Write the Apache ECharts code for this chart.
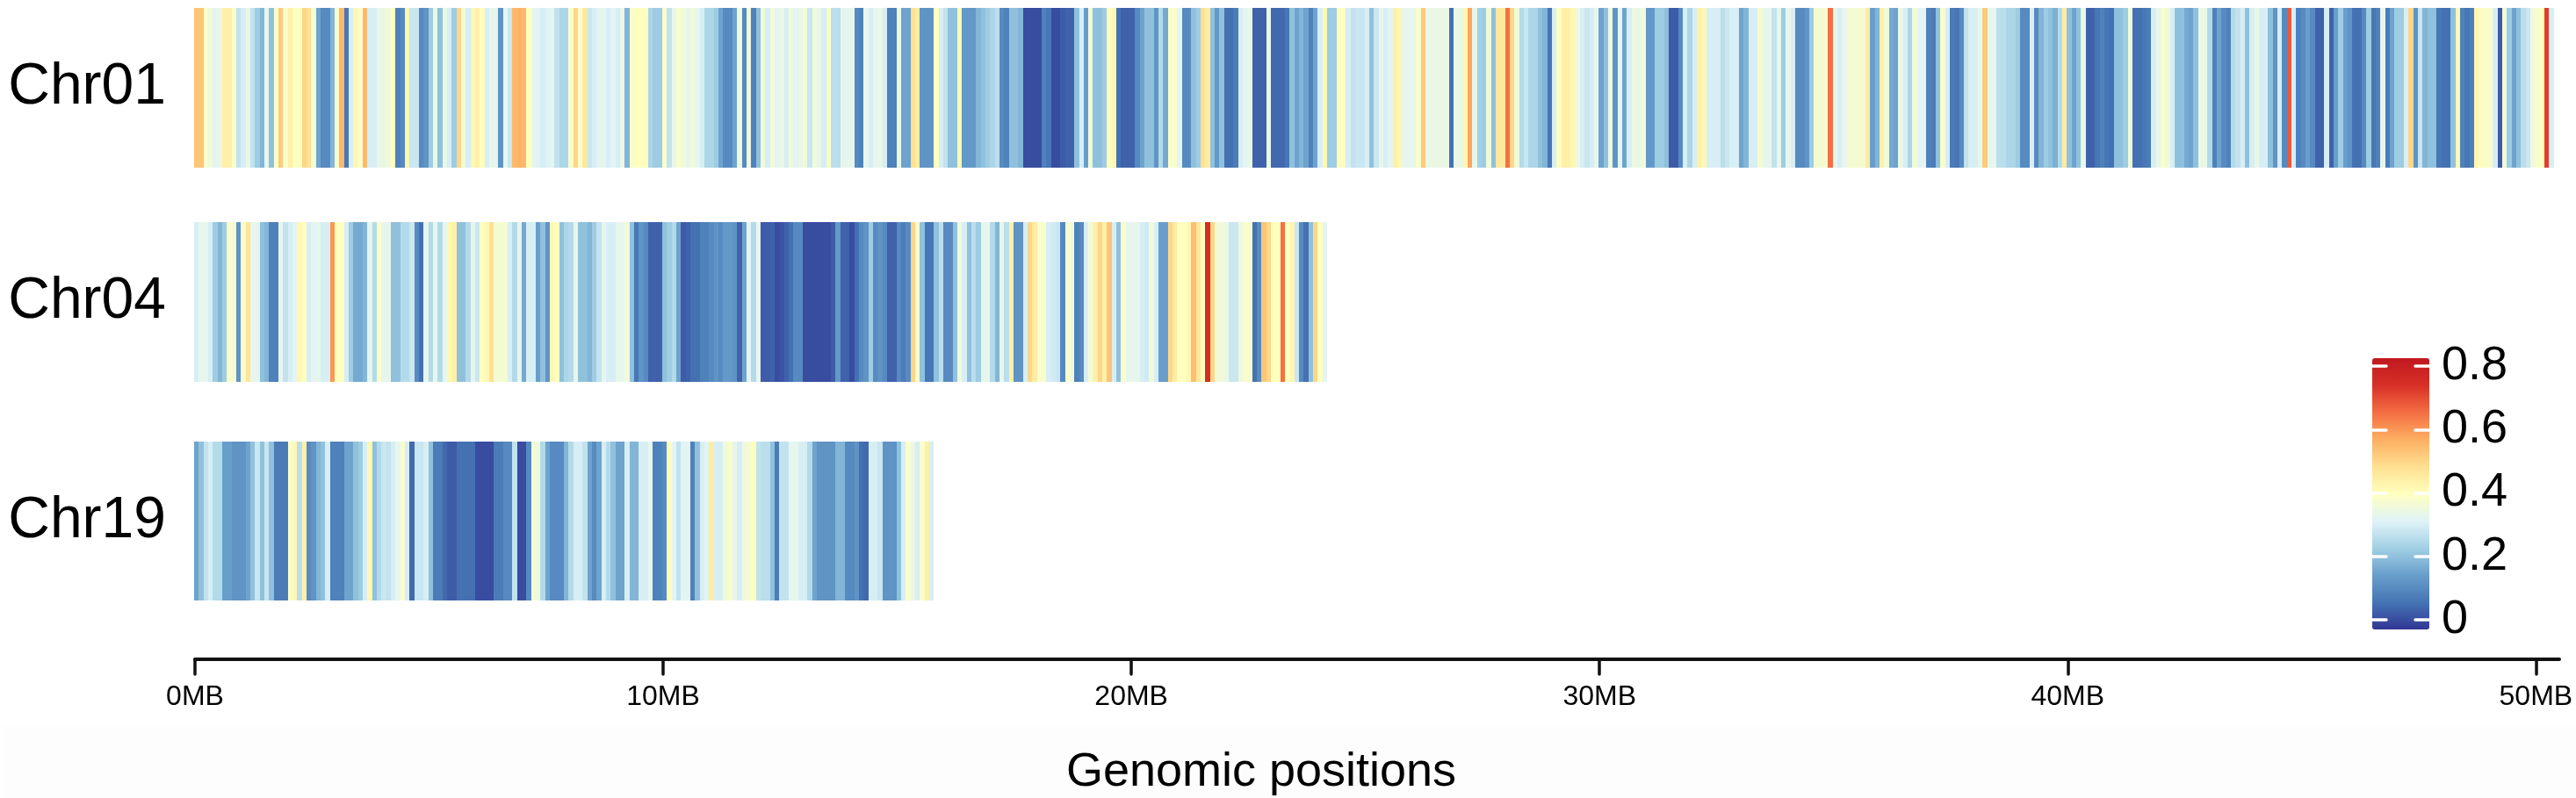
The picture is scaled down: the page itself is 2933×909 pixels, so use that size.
<!DOCTYPE html>
<html>
<head>
<meta charset="utf-8">
<script src="https://cdn.jsdelivr.net/npm/echarts@6/dist/echarts.min.js"></script>
<style>html,body{margin:0;padding:0;background:#fff}#c{width:2933px;height:909px}</style>
</head>
<body>
<div id="c"></div>
<script>
const chromosomes = ['Chr01', 'Chr04', 'Chr19'];
const binMb = 0.1;
const chr01Values = [
.53,.53,.38,.36,.32,.34,.44,.44,.38,.27,
.3,.34,.27,.22,.18,.33,.2,.38,.52,.38,
.44,.4,.4,.5,.48,.37,.15,.1,.1,.18,
.38,.55,.06,.3,.42,.38,.55,.3,.3,.34,
.34,.36,.4,.08,.1,.42,.28,.28,.1,.12,
.22,.34,.2,.34,.3,.22,.5,.36,.3,.42,
.44,.4,.3,.33,.33,.12,.33,.28,.55,.56,
.55,.4,.33,.31,.3,.31,.32,.27,.24,.24,
.38,.5,.38,.46,.28,.3,.32,.33,.3,.32,
.3,.34,.18,.38,.4,.4,.4,.24,.22,.22,
.38,.27,.33,.38,.36,.33,.36,.33,.3,.24,
.24,.22,.15,.1,.1,.15,.35,.1,.35,.08,
.2,.36,.3,.36,.32,.34,.3,.36,.32,.34,
.36,.28,.36,.33,.3,.38,.26,.26,.33,.33,
.33,.1,.08,.33,.3,.33,
.34,.3,.08,.08,.34,.15,.15,.48,.45,.12,
.12,.12,.4,.3,.27,.2,.2,.42,.13,.13,
.13,.18,.2,.22,.24,.26,.1,.08,.2,.2,
.18,0,0,0,0,.08,.06,0,0,.02,
.03,.03,.2,.3,.14,.36,.2,.2,.22,.4,
.42,.05,.03,.03,.03,.1,.15,.2,.2,.12,
.25,.16,.38,.38,.33,.1,.1,.2,.22,.48,
.45,.2,.13,.2,.05,.05,.07,.3,.32,.34,
.03,.03,.03,.34,.04,.04,.04,.06,.2,.15,
.18,.15,.08,.15,.3,.42,.22,.22,.4,.4,
.3,.27,.28,.28,.3,.2,.28,.33,.3,.32,
.44,.42,.33,.33,.33,.38,.52,.34,.34,.34,
.34,.34,.05,.34,.34,.42,.58,.33,.23,.22,
.36,.2,.46,.46,.65,.5,.36,.25,.28,.24,
.24,.2,.18,.06,.3,.4,.44,.44,.42,.35,
.3,.28,.3,.33,.15,.2,.35,.12,.33,.15,
.3,.35,.34,.36,.13,.13,.22,.22,.2,.02,
.02,.1,.3,.24,.3,.44,.42,.3,.3,.3,
.26,.28,.3,.3,.15,.18,.3,.3,
.37,.33,.33,.27,.33,.22,.33,.3,.1,.1,
.12,.22,.37,.37,.37,.65,.33,.3,.33,.37,
.37,.37,.37,.45,.14,.18,.44,.36,.16,.15,
.34,.3,.24,.36,.32,.32,.08,.07,.2,.38,
.3,.07,.06,.1,.27,.3,.3,.33,.52,.33,
.33,.26,.26,.24,.24,.22,.1,.1,.3,.1,
.18,.22,.2,.17,.25,.45,.2,.15,.2,.34,
.03,.03,.06,.08,.06,.05,.2,.2,.22,.36,
.05,.05,.06,.07,.3,.33,.38,.36,.3,.2,
.2,.16,.15,.2,.34,.34,.25,.08,.15,.1,
.08,.25,.27,.3,.2,.3,.34,.3,.3,.2,
.12,.3,.1,.68,.3,.08,.1,.14,.1,.03,
.03,.3,.03,.14,.22,.14,.12,.05,.05,.1,
.22,.06,.08,.33,.07,.15,.22,.22,.3,.5,
.12,.28,.18,.2,.2,.06,.05,.05,.2,.42,
.08,.06,.08,.42,.4,.38,.38,.3,.02,.36,
.22,.15,.2,.26,.28,.35,.38,.4,.72,.3
];
const chr04Values = [
.3,.33,.33,.3,.22,.18,.22,.38,.37,.12,
.38,.47,.33,.33,.2,.18,.08,.08,.33,.27,
.3,.32,.42,.4,.3,.32,.33,.3,.3,.6,
.4,.4,.3,.22,.16,.16,.18,.33,.25,.38,
.33,.33,.2,.2,.25,.25,.28,.1,.05,.33,
.25,.33,.25,.33,.42,.44,.2,.2,.25,.33,
.28,.4,.42,.48,.37,.37,.37,.3,.25,.33,
.16,.3,.3,.14,.2,.12,.42,.4,.2,.24,
.25,.33,.2,.2,.18,.22,.27,.33,.3,.3,
.33,.33,.36,.2,.06,.12,.1,.03,.03,.03,
.2,.22,.25,.15,.02,.03,.05,.05,
.08,.08,.1,.12,.1,.13,.13,.12,.03,.15,.32,.25,
.33,.02,.02,.03,0,.01,.03,.05,.1,.1,
0,0,0,0,0,0,.02,.13,.03,.03,
0,.05,.1,.12,.22,.1,.12,.1,.03,.03,
.1,.07,.1,.5,.38,.2,.06,.06,.2,.26,
.1,.1,.2,.36,.3,.2,.26,.22,.33,.33,
.25,.18,.33,.26,.44,.12,.12,.3,.5,.45,
.38,.38,.3,.29,.28,.1,.38,.36,.08,.1,
.3,.36,.44,.5,.44,.53,.3,.2,.38,.33,
.33,.33,.3,.29,.36,.3,.14,.14,.5,.45,
.4,.4,.42,.54,.46,.4,.75,.5,.36,.36,
.34,.28,.28,.35,.38,.38,.05,.1,.53,.5,
.4,.4,.65,.4,.42,.28,.1,.05,.2,.5,
.4,.32
];
const chr19Values = [
.15,.2,.27,.3,.25,.25,.14,.14,.12,.12,
.12,.15,.2,.28,.2,.28,.2,.07,.07,.07,
.38,.42,.26,.44,.1,.12,.18,.2,.3,.08,
.08,.08,.15,.15,.2,.22,.3,.42,.2,.25,
.28,.27,.3,.33,.38,.3,.04,.28,.28,.3,
.2,.07,.07,.04,.02,.02,.05,.05,.05,.05,
0,0,0,0,.07,.07,.1,.1,.27,0,
0,.1,.36,.36,.25,.15,.1,.1,.1,.18,
.25,.3,.3,.27,.15,.1,.15,.3,.25,.2,
.15,.15,.3,.18,.18,.3,.3,.33,.08,.08,
.1,.4,.32,.27,.32,.32,.08,.2,.3,.32,
.45,.3,.3,.36,.38,.33,.3,.35,.37,.4,
.27,.26,.26,.2,.07,.27,.27,.33,.33,.3,
.3,.25,.15,.12,.12,.12,.12,.18,.18,.1,
.1,.12,.05,.04,.3,.3,.28,.12,.12,.12,
.2,.3,.38,.34,.3,.38,.44,.3
];
const xTicksMb = [0, 10, 20, 30, 40, 50];
const legendTicks = [0, 0.2, 0.4, 0.6, 0.8];

const allValues = [chr01Values, chr04Values, chr19Values];
const ramp = ['#313695','#4575b4','#689ecb','#a2d0e4','#e0f3f8','#ffffbf','#fee090','#fdae61','#f46d43','#d73027','#c0181f'];
const FONT = '"Liberation Sans", Arial, sans-serif';
const tracks = [{top: 9, height: 182, pad: 2}, {top: 253, height: 182, pad: 10}, {top: 503, height: 181, pad: 10}];

function rows(values, name) {
  return values.map((v, i) => [i * binMb, (i + 1) * binMb, name, v]);
}
function renderStripe(params, api) {
  const a = api.coord([api.value(0), 0]);
  const b = api.coord([api.value(1), 0]);
  const h = api.size([0, 1])[1];
  const x0 = Math.round(a[0]), x1 = Math.round(b[0]);
  return {
    type: 'rect',
    shape: {x: x0 - 1, y: a[1] - h / 2, width: x1 - x0, height: h},
    style: {fill: api.visual('color')}
  };
}

const option = {
  animation: false,
  backgroundColor: '#ffffff',
  textStyle: {fontFamily: FONT},
  title: {
    text: 'Genomic positions',
    left: 1431,
    top: 875,
    textAlign: 'center',
    textVerticalAlign: 'middle',
    textStyle: {fontFamily: FONT, fontWeight: 'normal', fontSize: 54, color: '#000'}
  },
  graphic: [{
    type: 'rect', z: -10, silent: true,
    shape: {x: 4, y: 827, width: 2929, height: 82},
    style: {fill: '#fdfdfd'}
  }],
  grid: tracks.map(t => ({left: 222, width: 2692, top: t.top, height: t.height}))
    .concat([{left: 2701, width: 65, top: 408, height: 309}]),
  xAxis: [
    {gridIndex: 0, type: 'value', min: 0, max: 50.5, show: false},
    {gridIndex: 1, type: 'value', min: 0, max: 50.5, show: false},
    {
      gridIndex: 2, type: 'value', min: 0, max: 50.5, position: 'bottom', offset: 67,
      splitLine: {show: false},
      axisLine: {show: true, onZero: false, lineStyle: {color: '#111', width: 4, cap: 'round'}},
      axisTick: {show: true, length: 17, customValues: xTicksMb, lineStyle: {color: '#111', width: 3.5, cap: 'round'}},
      axisLabel: {show: true, customValues: xTicksMb, margin: 27, fontSize: 32, color: '#000', fontFamily: FONT,
        formatter: v => v + 'MB', hideOverlap: false}
    },
    {gridIndex: 3, type: 'value', show: false}
  ],
  yAxis: chromosomes.map((c, i) => ({
    gridIndex: i, type: 'category', data: [c],
    axisLine: {show: false}, axisTick: {show: false}, splitLine: {show: false},
    axisLabel: {show: true, fontSize: 66, color: '#000', margin: 33, fontFamily: FONT, padding: [tracks[i].pad, 0, 0, 0]}
  })).concat([
    {
      gridIndex: 3, type: 'value', min: -0.03, max: 0.825, position: 'left', z: 8,
      splitLine: {show: false}, axisLine: {show: false}, axisLabel: {show: false},
      axisTick: {show: true, inside: true, length: 16, customValues: legendTicks, lineStyle: {color: '#fff', width: 3.5, cap: 'round'}}
    },
    {
      gridIndex: 3, type: 'value', min: -0.03, max: 0.825, position: 'right', z: 8,
      splitLine: {show: false}, axisLine: {show: false},
      axisTick: {show: true, inside: true, length: 16, customValues: legendTicks, lineStyle: {color: '#fff', width: 3.5, cap: 'round'}},
      axisLabel: {show: true, customValues: legendTicks, margin: 14, fontSize: 54, color: '#000', fontFamily: FONT,
        padding: [9, 0, 0, 0], formatter: v => String(v), hideOverlap: false}
    }
  ]),
  visualMap: {
    type: 'continuous', seriesIndex: [0, 1, 2], dimension: 3,
    min: -0.03, max: 0.825, calculable: false, realtime: false,
    left: 2701, top: 408, itemWidth: 65, itemHeight: 309, padding: 0,
    text: null, showLabel: false, z: 2, borderWidth: 0,
    inRange: {color: ramp}
  },
  series: chromosomes.map((c, i) => ({
    type: 'custom', name: c, xAxisIndex: i, yAxisIndex: i,
    renderItem: renderStripe, clip: false,
    encode: {x: [0, 1], y: 2},
    data: rows(allValues[i], c)
  }))
};
const chart = echarts.init(document.getElementById('c'), null, {renderer: 'canvas'});
chart.setOption(option);
</script>
</body>
</html>
